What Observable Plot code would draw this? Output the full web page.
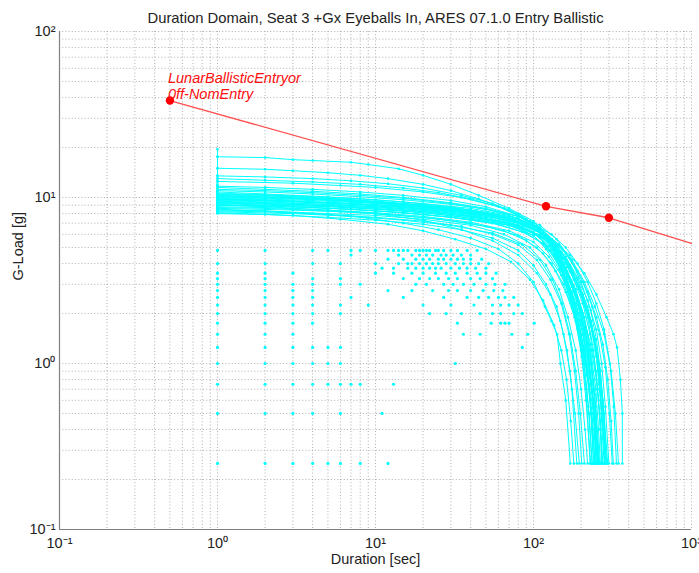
<!DOCTYPE html>
<html><head><meta charset="utf-8">
<script src="https://cdn.jsdelivr.net/npm/d3@7"></script>
<script src="https://cdn.jsdelivr.net/npm/@observablehq/plot@0.6"></script>
<style>html,body{margin:0;padding:0;background:#fff} svg{display:block}</style>
</head><body><div id="chart"></div>
<script>
const title = "Duration Domain, Seat 3 +Gx Eyeballs In, ARES 07.1.0 Entry Ballistic";
const xLabel = "Duration [sec]";
const yLabel = "G-Load [g]";
const annotationLines = ["LunarBallisticEntryor", "0ff-NomEntry"];

// Red limit line (duration, G-load); first three vertices carry markers
const limitDurations = [0.5, 120, 300, 1000];
const limitLoads = [38.4, 8.85, 7.55, 5.3];
const limitHasMarker = [true, true, true, false];

const xMajorTicks = [0.1, 1, 10, 100, 1000];
const xTickLabels = ["10\u207B\u00B9", "10\u2070", "10\u00B9", "10\u00B2", "10\u00B3"];
const yMajorTicks = [0.1, 1, 10, 100];
const yTickLabels = ["10\u207B\u00B9", "10\u2070", "10\u00B9", "10\u00B2"];

// Cyan duration-domain traces: flat lists of duration, G-load pairs
const cyanTraces = [
 [1,19.5, 1,17.6, 2,17.4, 3,16.9, 4,16.7, 7,16.3, 9,15.8, 14,14.9, 20,13.6, 30,12.0, 45,10.3, 70,8.6, 100,7.2, 130,5.5, 160,3.5, 190,2.0, 215,1.0, 235,0.5, 245,0.25],
 [1,17.6, 1,15.0, 2,14.8, 3,14.5, 5,14.1, 8,13.6, 12,13.0, 20,12.0, 30,11.0, 45,9.8, 70,8.4, 100,7.0, 130,5.3, 160,3.2, 190,1.8, 210,1.0, 225,0.5, 235,0.25],
 [1,15.0, 1,13.5, 2,13.3, 4,13.0, 7,12.6, 12,12.1, 20,11.4, 35,10.3, 55,9.2, 80,8.0, 110,6.5, 140,4.6, 170,2.8, 200,1.5, 225,0.75, 240,0.25],
 [1,13.5, 1,13.0, 2,12.7, 4,12.4, 8,12.0, 15,11.4, 25,10.7, 40,9.8, 65,8.6, 95,7.2, 125,5.4, 155,3.4, 185,1.9, 215,1.0, 240,0.5, 255,0.25],
 [1,13.0, 1,12.5, 3,12.2, 6,11.8, 10,11.5, 20,10.8, 35,10.0, 60,8.8, 90,7.4, 120,5.8, 150,3.9, 180,2.3, 210,1.2, 240,0.6, 260,0.25],
 [1,12.5, 1,11.5, 2,11.2, 4,10.9, 8,10.5, 15,10.0, 30,9.3, 50,8.6, 80,7.7, 110,6.6, 140,5.2, 170,3.9, 195,2.8, 220,1.9, 240,1.2, 255,0.7, 265,0.4, 270,0.25],
 [1,11.5, 1,11.0, 2,10.8, 4,10.5, 8,10.1, 15,9.7, 30,9.1, 50,8.5, 80,7.7, 110,6.8, 140,5.6, 170,4.3, 200,3.1, 230,2.1, 250,1.4, 265,0.9, 278,0.5, 285,0.25],
 [1,11.0, 1,10.8, 2,10.5, 5,10.1, 10,9.7, 20,9.2, 40,8.6, 70,7.8, 100,6.8, 125,5.6, 150,4.3, 175,3.1, 200,2.1, 220,1.3, 235,0.7, 245,0.4, 250,0.25],
 [1,10.8, 1,10.5, 2,10.3, 5,9.9, 10,9.5, 20,9.0, 40,8.4, 70,7.6, 100,6.7, 130,5.6, 160,4.4, 190,3.3, 220,2.4, 250,1.6, 270,1.0, 285,0.55, 300,0.25],
 [1,10.5, 1,10.2, 3,9.9, 6,9.6, 12,9.2, 25,8.7, 45,8.1, 75,7.3, 105,6.3, 135,5.0, 160,3.8, 185,2.8, 210,1.9, 230,1.2, 248,0.7, 258,0.4, 265,0.25],
 [1,10.2, 1,10.0, 2,9.8, 5,9.5, 10,9.2, 20,8.8, 40,8.2, 70,7.4, 100,6.5, 130,5.5, 160,4.3, 190,3.2, 220,2.2, 245,1.4, 265,0.9, 280,0.5, 290,0.25],
 [1,10.0, 1,9.8, 3,9.5, 7,9.2, 15,8.8, 30,8.3, 55,7.6, 85,6.7, 110,5.7, 135,4.5, 160,3.3, 185,2.3, 205,1.5, 220,0.9, 232,0.5, 240,0.25],
 [1,9.8, 1,9.6, 2,9.4, 5,9.1, 10,8.8, 20,8.4, 40,7.8, 70,7.0, 100,5.9, 120,4.9, 145,3.7, 165,2.7, 185,1.8, 202,1.1, 215,0.6, 230,0.25],
 [1,9.6, 1,9.4, 3,9.1, 6,8.9, 12,8.6, 25,8.1, 50,7.4, 80,6.7, 110,5.9, 140,4.8, 170,3.6, 200,2.6, 230,1.7, 250,1.1, 265,0.6, 280,0.25],
 [1,9.4, 1,9.2, 2,9.0, 5,8.8, 10,8.5, 20,8.1, 40,7.5, 70,6.8, 100,5.9, 125,4.8, 150,3.7, 175,2.7, 200,1.8, 220,1.1, 238,0.6, 248,0.35, 255,0.25],
 [1,9.2, 1,9.0, 3,8.8, 7,8.5, 15,8.1, 30,7.6, 60,6.9, 90,6.1, 120,5.1, 150,4.0, 180,2.9, 205,2.0, 230,1.3, 250,0.8, 265,0.45, 275,0.25],
 [1,9.0, 1,8.8, 2,8.7, 5,8.4, 10,8.1, 20,7.7, 40,7.1, 70,6.3, 100,5.4, 125,4.4, 150,3.4, 175,2.5, 200,1.7, 222,1.0, 240,0.55, 260,0.25],
 [1,8.8, 1,8.6, 3,8.4, 6,8.2, 12,7.9, 25,7.4, 50,6.7, 80,5.9, 105,5.0, 130,4.0, 155,3.0, 178,2.1, 200,1.4, 218,0.85, 232,0.5, 245,0.25],
 [1,8.6, 1,8.4, 2,8.3, 5,8.0, 10,7.8, 20,7.4, 40,6.8, 65,6.0, 95,5.0, 120,3.9, 145,2.8, 165,1.9, 185,1.2, 200,0.7, 212,0.4, 220,0.25],
 [1,8.4, 1,8.2, 3,8.0, 7,7.7, 15,7.3, 30,6.8, 55,6.1, 85,5.2, 110,4.2, 132,3.2, 152,2.3, 170,1.5, 185,0.9, 198,0.5, 210,0.25],
 [1,8.2, 1,8.0, 2,7.9, 5,7.6, 10,7.3, 20,6.9, 35,6.4, 55,5.7, 80,4.8, 100,3.9, 120,3.0, 140,2.2, 155,1.5, 170,0.9, 183,0.5, 195,0.25],
 [1,10.9, 1,10.6, 2,10.4, 4,10.1, 8,9.8, 15,9.4, 30,8.8, 50,8.1, 80,7.1, 105,6.0, 128,4.8, 150,3.6, 172,2.5, 192,1.6, 208,1.0, 222,0.55, 235,0.25],
 [1,10.1, 1,9.9, 2,9.7, 4,9.4, 8,9.1, 15,8.7, 30,8.2, 50,7.6, 80,6.8, 108,5.9, 135,4.8, 162,3.6, 188,2.5, 212,1.6, 232,1.0, 248,0.55, 262,0.25],
 [1,10.6, 1,10.3, 2,10.1, 5,9.8, 10,9.4, 20,9.0, 40,8.4, 70,7.7, 100,6.9, 130,6.0, 160,5.0, 190,4.0, 220,3.1, 250,2.3, 280,1.6, 305,1.0, 322,0.55, 335,0.25],
 [1,9.9, 1,9.7, 3,9.4, 7,9.1, 15,8.7, 30,8.2, 55,7.6, 85,6.9, 115,6.1, 145,5.2, 175,4.2, 210,3.1, 245,2.2, 280,1.5, 310,0.9, 330,0.5, 345,0.25],
 [1,9.3, 1,9.1, 2,8.9, 5,8.6, 10,8.3, 20,7.9, 40,7.4, 70,6.8, 100,6.1, 135,5.4, 170,4.5, 210,3.5, 250,2.6, 290,1.9, 321,1.5, 338,1.25, 355,0.8, 365,0.5, 365,0.25],
 [1,10.7, 1,10.4, 3,10.1, 7,9.7, 15,9.2, 30,8.7, 55,8.0, 85,7.2, 115,6.3, 145,5.2, 175,4.1, 205,3.1, 235,2.2, 262,1.5, 285,0.95, 302,0.5, 315,0.25],
 [1,8.7, 1,8.5, 2,8.3, 4,8.0, 8,7.6, 15,7.0, 25,6.4, 40,5.7, 60,4.9, 80,4.0, 100,3.1, 118,2.2, 130,1.8, 141,1.5, 148,1.0, 160,0.6, 171,0.25],
 [1,8.3, 1,8.1, 3,7.8, 6,7.4, 12,6.9, 20,6.3, 32,5.6, 50,4.9, 72,4.1, 95,3.2, 115,2.4, 135,1.7, 150,1.2, 162,0.8, 172,0.45, 180,0.25],
 [1,9.1, 1,9.0, 2,8.8, 5,8.4, 10,8.0, 20,7.3, 35,6.4, 55,5.5, 80,4.5, 105,3.5, 128,2.6, 148,1.8, 163,1.2, 175,0.7, 188,0.25],
 [1,11.8, 1,11.2, 2,11.0, 4,10.7, 8,10.3, 15,9.9, 30,9.2, 50,8.5, 80,7.5, 105,6.5, 130,5.3, 155,4.0, 180,2.9, 205,2.0, 228,1.2, 245,0.65, 255,0.25],
 [1,10.3, 1,10.1, 2,9.9, 4,9.7, 8,9.4, 15,9.0, 30,8.4, 50,7.8, 80,7.0, 110,6.1, 140,5.0, 168,3.9, 195,2.9, 222,2.0, 245,1.3, 262,0.75, 275,0.4, 283,0.25],
 [1,9.7, 1,9.5, 3,9.2, 6,9.0, 12,8.7, 25,8.2, 45,7.6, 75,6.9, 100,6.1, 125,5.1, 150,4.0, 175,2.9, 198,2.0, 218,1.3, 233,0.75, 243,0.4, 250,0.25],
 [1,9.5, 1,9.3, 2,9.2, 5,8.9, 10,8.6, 20,8.2, 40,7.7, 70,7.0, 100,6.2, 130,5.2, 160,4.1, 190,3.0, 218,2.1, 242,1.4, 260,0.85, 275,0.45, 285,0.25],
 [1,9.9, 1,9.7, 3,9.5, 7,9.2, 15,8.9, 30,8.4, 60,7.7, 90,6.9, 120,5.9, 150,4.7, 178,3.5, 205,2.5, 232,1.7, 255,1.1, 275,0.6, 295,0.25],
 [1,8.9, 1,8.7, 2,8.6, 5,8.3, 10,8.0, 20,7.6, 40,7.0, 65,6.3, 90,5.5, 115,4.6, 138,3.6, 160,2.7, 182,1.9, 200,1.2, 215,0.7, 228,0.25],
 [1,9.2, 1,9.0, 3,8.8, 7,8.5, 15,8.1, 30,7.6, 55,7.0, 85,6.2, 115,5.3, 140,4.3, 165,3.3, 190,2.4, 212,1.6, 230,1.0, 245,0.55, 258,0.25],
 [1,10.4, 1,10.2, 2,10.0, 5,9.7, 10,9.3, 20,8.9, 40,8.3, 70,7.5, 100,6.6, 128,5.5, 155,4.3, 180,3.2, 205,2.3, 228,1.5, 248,0.9, 262,0.5, 272,0.25],
 [1,8.5, 1,8.3, 2,8.2, 5,7.9, 10,7.6, 20,7.2, 35,6.7, 55,6.0, 80,5.2, 105,4.2, 128,3.2, 150,2.3, 168,1.5, 182,0.9, 193,0.5, 202,0.25],
 [1,10.0, 1,9.8, 2,9.6, 5,9.3, 10,9.0, 20,8.6, 40,8.0, 70,7.3, 100,6.5, 130,5.6, 160,4.6, 190,3.6, 220,2.7, 250,1.9, 275,1.3, 295,0.8, 310,0.45, 320,0.25],
 [1,9.4, 1,9.3, 3,9.0, 7,8.7, 15,8.3, 30,7.8, 55,7.2, 85,6.5, 115,5.7, 145,4.7, 175,3.6, 205,2.6, 232,1.8, 255,1.1, 270,0.65, 282,0.35, 290,0.25],
 [1,12.0, 1,11.7, 2,11.5, 4,11.2, 8,10.8, 15,10.3, 30,9.6, 50,8.8, 80,7.7, 105,6.6, 130,5.3, 155,3.9, 180,2.7, 203,1.8, 222,1.1, 238,0.6, 248,0.25]
];

// Isolated cyan points: one G-load level per row, with the durations where dots appear
const scatterLoads = [4.8, 4.5, 4.25, 4.0, 3.75, 3.5, 3.25, 3.0, 2.75, 2.5, 2.25, 2.0, 1.75, 1.5, 1.25, 1.0, 0.75, 0.5, 0.25];
const scatterDurations = [
 [1, 2, 4, 5, 7, 8, 10, 12, 13, 14, 15, 16, 18, 19, 20, 21, 22, 24, 25, 27, 30, 33, 38, 44],
 [7, 14, 17, 19, 21, 23, 26, 28, 31, 35, 40],
 [12, 15, 18, 20, 22, 25, 27, 30, 33, 36, 40, 47],
 [1, 2, 4, 6, 10, 14, 16, 17, 19, 21, 23, 25, 28, 32, 36, 40, 45, 52],
 [11, 13, 16, 18, 20, 22, 24, 26, 30, 34, 38, 43, 50],
 [1, 2, 3, 10, 13, 17, 20, 24, 28, 32, 38, 44, 50, 58],
 [1, 2, 4, 6, 15, 19, 22, 25, 29, 33, 40, 46, 55],
 [1, 2, 3, 4, 6, 8, 18, 21, 27, 31, 36, 42, 50, 57, 66],
 [1, 2, 3, 4, 12, 17, 23, 29, 33, 40, 48, 56, 64],
 [1, 2, 3, 4, 7, 15, 27, 38, 45, 52, 60, 66, 75],
 [1, 2, 3, 4, 6, 9, 20, 30, 42, 55, 62, 70, 80],
 [1, 2, 3, 4, 6, 22, 28, 35, 46, 55, 62, 75, 85],
 [1, 2, 3, 4, 33, 54, 62, 66, 70, 101],
 [1, 2, 3, 36, 46, 73, 92],
 [1, 2, 3, 4, 5, 6, 85],
 [1, 2, 3, 4, 5, 6, 32],
 [1, 2, 3, 4, 5, 6, 7, 8, 13],
 [1, 2, 3, 4, 6, 11],
 [1, 2, 3, 4, 5, 6, 8, 12]
];

// ---- build tables ----
const traceRows = [];
cyanTraces.forEach((t, k) => {
  for (let i = 0; i < t.length; i += 2) traceRows.push({trace: k, d: t[i], g: t[i + 1]});
});
const scatterRows = [];
scatterLoads.forEach((g, k) => scatterDurations[k].forEach(d => scatterRows.push({d, g})));
const limitRows = limitDurations.map((d, i) => ({d, g: limitLoads[i], m: limitHasMarker[i]}));

const xGrid = d3.scaleLog().domain([0.1, 1000]).ticks();
const yGrid = d3.scaleLog().domain([0.1, 100]).ticks();
const gridStyle = {stroke: "#9a9a9a", strokeWidth: 0.8, strokeDasharray: "1,2.2"};
const FS = 14.5;

const chart = Plot.plot({
  width: 699, height: 573,
  marginLeft: 59, marginRight: 8, marginTop: 31, marginBottom: 44,
  style: {fontFamily: "'Liberation Sans', Arial, sans-serif", fontSize: FS + "px", background: "#fff", color: "#222"},
  x: {type: "log", domain: [0.1, 1000]},
  y: {type: "log", domain: [0.1, 100]},
  marks: [
    Plot.ruleX(xGrid, gridStyle),
    Plot.ruleY(yGrid, gridStyle),
    Plot.line(traceRows, {x: "d", y: "g", z: "trace", stroke: "#00ffff", strokeWidth: 1}),
    Plot.dot(traceRows, {x: "d", y: "g", r: 1.3, fill: "#00ffff", stroke: null}),
    Plot.dot(scatterRows, {x: "d", y: "g", r: 1.6, fill: "#00ffff", stroke: null}),
    Plot.line(limitRows, {x: "d", y: "g", stroke: "#ff5050", strokeWidth: 1.3}),
    Plot.dot(limitRows.filter(r => r.m), {x: "d", y: "g", r: 4.2, fill: "#ff0000", stroke: null}),
    Plot.text([annotationLines.join("\n")], {x: limitDurations[0], y: limitLoads[0], text: d => d,
      textAnchor: "start", lineAnchor: "bottom", lineHeight: 1.1, dx: -2, dy: -2,
      fill: "#ff1010", fontStyle: "italic", fontSize: FS}),
    Plot.ruleX([0.1], {stroke: "#808080", strokeWidth: 1.2}),
    Plot.ruleY([0.1], {stroke: "#808080", strokeWidth: 1.2}),
    Plot.axisX(xMajorTicks, {tickFormat: d => xTickLabels[xMajorTicks.indexOf(d)], tickSize: 0, tickPadding: 8, label: null, fontSize: FS}),
    Plot.axisY(yMajorTicks, {tickFormat: d => yTickLabels[yMajorTicks.indexOf(d)], tickSize: 0, tickPadding: 4, label: null, fontSize: FS}),
    Plot.text([xLabel], {frameAnchor: "bottom", dy: 34, fontSize: FS}),
    Plot.text([yLabel], {frameAnchor: "left", dx: -41, rotate: -90, fontSize: FS}),
    Plot.text([title], {frameAnchor: "top", dy: -19, fontSize: 14.8})
  ]
});
document.getElementById("chart").appendChild(chart);
</script>
</body></html>
